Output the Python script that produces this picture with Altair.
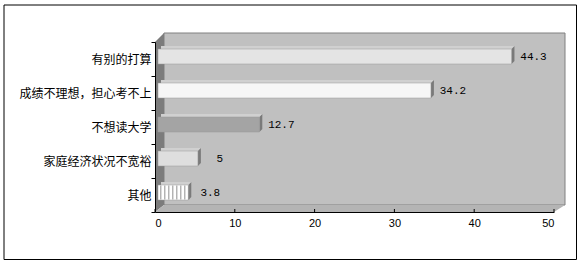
import altair as alt
import pandas as pd

# ---- data ----
categories = ["有别的打算", "成绩不理想，担心考不上", "不想读大学", "家庭经济状况不宽裕", "其他"]
values = [44.3, 34.2, 12.7, 5, 3.8]
value_labels = ["44.3", "34.2", "12.7", "5", "3.8"]
x_ticks = [0, 10, 20, 30, 40, 50]

# ---- styles ----
bar_colors = ["#e4e4e4", "#f6f6f6", "#a4a4a4", "#dedede", "#ffffff"]
W, H = 399, 170

df = pd.DataFrame({"category": categories, "value": values, "label": value_labels})
one = alt.Data(values=[{"k": 1}])
ticks_df = pd.DataFrame({"t": x_ticks})

x_scale = alt.Scale(domain=[0, 50], nice=False, zero=True)
y_scale = alt.Scale(domain=categories, paddingInner=0, paddingOuter=0)

X = alt.X("value:Q", scale=x_scale,
          axis=alt.Axis(values=x_ticks, format="d", title=None, grid=False, tickSize=0,
                        labelPadding=5, labelFont="Liberation Sans", labelFontSize=11,
                        labelColor="black", domainColor="black", domainWidth=1, zindex=1))
Y = alt.Y("category:N", sort=categories, scale=y_scale,
          axis=alt.Axis(title=None, tickBand="extent", tickSize=4, tickColor="black",
                        labelPadding=0, labelFont="Noto Sans CJK SC", labelFontSize=12,
                        labelColor="black", domainColor="black", zindex=1))
Xp = alt.X("value:Q", scale=x_scale)
Yp = alt.Y("category:N", sort=categories, scale=y_scale)

# outer frame
border = alt.Chart(one).mark_rect(fillOpacity=0, stroke="black", strokeWidth=1).encode(
    x=alt.value(-151), x2=alt.value(421.5), y=alt.value(-37), y2=alt.value(217.5))

# back wall
back_wall = alt.Chart(one).mark_rect(fill="#c0c0c0", stroke="#808080", strokeWidth=1).encode(
    x=alt.value(9), x2=alt.value(410), y=alt.value(-9), y2=alt.value(163))

# left wall (parallelogram)
left_path = "M -0.0503 -0.8994 L 0.0503 -1 L 0.0503 0.9218 L -0.0503 1 Z"
left_wall = alt.Chart(one).mark_point(shape=left_path, size=32041, filled=True, opacity=1,
                                      color="#7c7c7c", strokeWidth=0).encode(
    x=alt.value(4.5), y=alt.value(80.5))

# floor (parallelogram)
floor_path = "M -0.9988 0.0171 L -0.9549 -0.0171 L 1.0012 -0.0171 L 0.9476 0.0171 Z"
floor = alt.Chart(one).mark_point(shape=floor_path, size=168100, filled=True, opacity=1,
                                  color="#b4b4b4", strokeWidth=0).encode(
    x=alt.value(204.75), y=alt.value(166.5))

base = alt.Chart(df)

# bar top faces (shifted copy behind front)
bar_back = base.mark_bar(size=15, color="#d0d0d0", xOffset=6, x2Offset=6, yOffset=-5.5).encode(
    x=Xp, x2=alt.datum(0), y=Yp)

# bar side faces
side_path = "M 0 -0.625 L 0.25 -0.875 L 0.25 0.375 L 0 0.625 Z"
bar_side = base.mark_point(shape=side_path, size=576, filled=True, opacity=1,
                           color="#7a7a7a", strokeWidth=0, xOffset=3, yOffset=-2.5).encode(
    x=Xp, y=Yp)

bars = base.mark_bar(size=15, xOffset=3, x2Offset=3, yOffset=-2.5, stroke="#9a9a9a",
                     strokeWidth=0.5).encode(
    x=X, x2=alt.datum(0), y=Y,
    color=alt.Color("category:N", scale=alt.Scale(domain=categories, range=bar_colors),
                    legend=None))

# vertical stripe texture on the last bar
stripes = base.transform_filter(alt.datum.category == categories[4]).mark_rule(
    strokeWidth=14, strokeDash=[1, 3], color="#909090", xOffset=4, x2Offset=4,
    yOffset=-2.5).encode(x=Xp, x2=alt.datum(0), y=Yp)

labels = base.mark_text(align="center", baseline="middle", dx=25, yOffset=-2.5,
                        font="Liberation Mono", fontSize=11, color="black").encode(
    x=Xp, y=Yp, text="label:N")

tick_marks = alt.Chart(ticks_df).mark_rule(color="black", strokeWidth=1).encode(
    x=alt.X("t:Q", scale=x_scale), y=alt.value(H - 3), y2=alt.value(H))

chart = alt.layer(border, back_wall, left_wall, floor, bar_back, bar_side, bars, stripes,
                  labels, tick_marks).properties(
    width=W, height=H,
    autosize=alt.AutoSizeParams(type="none"),
    padding={"left": 155, "top": 42, "right": 32, "bottom": 54},
    background="white",
).configure_view(stroke=None)

chart.save("out.html", embed_options={"renderer": "svg", "actions": False})
